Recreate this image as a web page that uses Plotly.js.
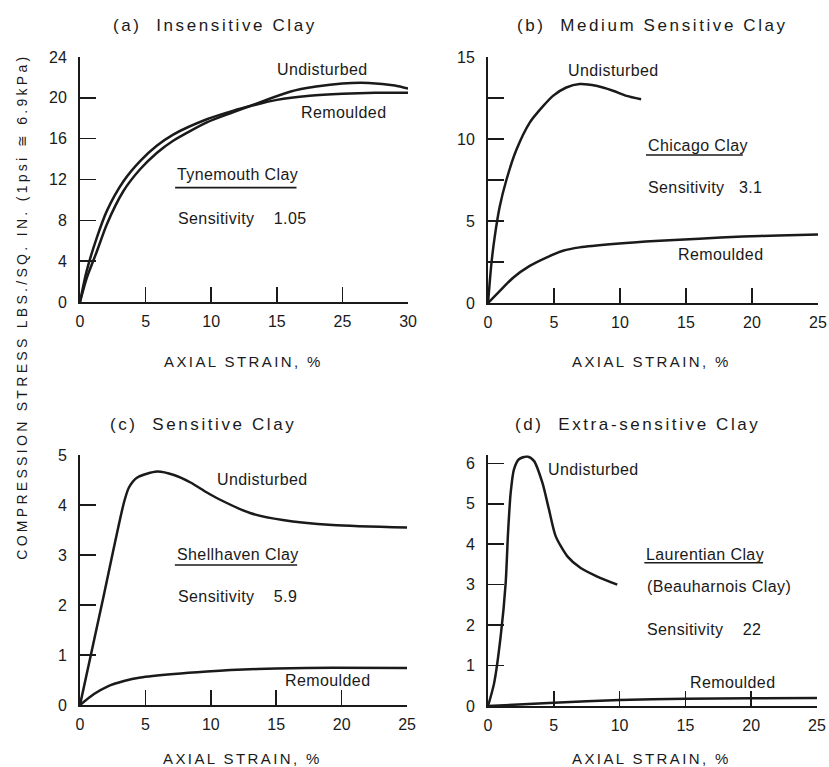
<!DOCTYPE html>
<html>
<head>
<meta charset="utf-8">
<script src="https://cdn.plot.ly/plotly-3.0.1.min.js"></script>
<style>
html,body{margin:0;padding:0;background:#fff;}
#chart{width:829px;height:767px;}
.annotation-text[style*="font-size: 17px"]{letter-spacing:2.6px;}
.annotation-text[style*="font-size: 15px"]{letter-spacing:2.4px;}
.annotation-text[style*="font-size: 14px"]{letter-spacing:3.3px;}
.annotation-text[style*="font-size: 16px"]{letter-spacing:0.4px;}
</style>
</head>
<body>
<div id="chart"></div>
<script>
// ---------- data ----------
// (a) Insensitive clay (Tynemouth) - x in evenly spaced tick units, labelled 0,5,10,15,25,30
var xTickValsA = [0, 5, 10, 15, 20, 25];
var xTickTextA = ['0', '5', '10', '15', '25', '30'];
var xA_und = [0, 0.5, 1.27, 2.04, 3.3, 4.58, 5.85, 7.1, 9.67, 11.7, 14, 16, 18, 20, 22, 24, 25];
var yA_und = [0, 2.3, 4.9, 7.6, 10.85, 13.0, 14.6, 15.8, 17.6, 18.6, 19.7, 20.6, 21.1, 21.4, 21.45, 21.2, 20.9];
var xA_rem = [0, 0.5, 1.27, 2.04, 3.3, 4.58, 5.85, 7.1, 9.67, 11.7, 13, 15, 17.5, 20, 22.5, 25];
var yA_rem = [0, 3.0, 6.25, 8.9, 11.8, 13.8, 15.3, 16.4, 17.9, 18.75, 19.2, 19.8, 20.2, 20.4, 20.5, 20.5];

// (b) Medium sensitive clay (Chicago)
var xB_und = [0, 0.25, 0.5, 0.88, 1.39, 2.15, 3.16, 4.17, 4.92, 5.93, 6.94, 8.2, 9.47, 10.5, 11.6];
var yB_und = [0, 2.36, 4.0, 5.85, 7.5, 9.34, 11.0, 12.0, 12.63, 13.14, 13.35, 13.24, 12.94, 12.63, 12.42];
var xB_rem = [0, 0.88, 1.9, 3.16, 4.42, 5.68, 6.94, 9.47, 13, 16, 19.3, 22, 25];
var yB_rem = [0, 0.72, 1.54, 2.26, 2.77, 3.18, 3.39, 3.6, 3.8, 3.92, 4.05, 4.12, 4.18];

// (c) Sensitive clay (Shellhaven)
var xC_und = [0, 1.7, 3.36, 3.74, 4.38, 5.9, 7.18, 8.45, 9.7, 10.6, 13, 15.5, 19.3, 25];
var yC_und = [0, 2.05, 4.05, 4.35, 4.55, 4.67, 4.6, 4.45, 4.25, 4.12, 3.84, 3.7, 3.6, 3.55];
var xC_rem = [0, 1.07, 2.09, 3.36, 4.63, 7.18, 9.7, 12, 15, 19.3, 25];
var yC_rem = [0, 0.22, 0.37, 0.48, 0.55, 0.62, 0.67, 0.705, 0.73, 0.745, 0.74];

// (d) Extra-sensitive clay (Laurentian)
var xD_und = [0, 0.46, 0.96, 1.34, 1.52, 1.72, 1.97, 2.35, 2.99, 3.49, 4.13, 4.63, 5.14, 6.03, 7.04, 8.3, 9.82];
var yD_und = [0, 0.56, 1.72, 3.04, 4.28, 5.27, 5.85, 6.1, 6.17, 6.06, 5.52, 4.86, 4.2, 3.7, 3.41, 3.2, 3.0];
var xD_rem = [0, 5, 10, 15, 20, 25];
var yD_rem = [0, 0.08, 0.15, 0.18, 0.19, 0.2];

var xTicks = [0, 5, 10, 15, 20, 25];

var panelTitles = ['(a)\u00a0 Insensitive Clay', '(b)\u00a0 Medium Sensitive Clay', '(c)\u00a0 Sensitive Clay', '(d)\u00a0 Extra-sensitive Clay'];
var xTitle = 'AXIAL STRAIN, %';
var yTitle = 'COMPRESSION STRESS LBS./SQ. IN. (1psi \u2245 6.9kPa)';

// ---------- styling ----------
var FONT = '"Liberation Sans", Arial, sans-serif';
var INK = '#1a1a1a';

function curve(x, y, xa, ya) {
  return {x: x, y: y, xaxis: xa, yaxis: ya, mode: 'lines', type: 'scatter',
    line: {color: INK, width: 2.5, shape: 'spline', smoothing: 0.7},
    hoverinfo: 'skip', showlegend: false};
}

var data = [
  curve(xA_und, yA_und, 'x', 'y'), curve(xA_rem, yA_rem, 'x', 'y'),
  curve(xB_und, yB_und, 'x2', 'y2'), curve(xB_rem, yB_rem, 'x2', 'y2'),
  curve(xC_und, yC_und, 'x3', 'y3'), curve(xC_rem, yC_rem, 'x3', 'y3'),
  curve(xD_und, yD_und, 'x4', 'y4'), curve(xD_rem, yD_rem, 'x4', 'y4')
];

function xax(domain, anchor, tv, tt) {
  return {domain: domain, anchor: anchor, range: [0, 25], tickvals: tv, ticktext: tt,
    ticks: 'inside', ticklen: 15, tickwidth: 1.5, tickcolor: INK,
    showline: true, linewidth: 2, linecolor: INK, showgrid: false, zeroline: false,
    ticklabelstandoff: 4, tickfont: {family: FONT, size: 16, color: INK}, fixedrange: true};
}
function yax(domain, anchor, range, tv, extra) {
  var o = {domain: domain, anchor: anchor, range: range, tickvals: tv,
    ticks: 'inside', ticklen: 16, tickwidth: 1.5, tickcolor: INK,
    showline: true, linewidth: 2, linecolor: INK, showgrid: false, zeroline: false,
    ticklabelstandoff: 8, tickfont: {family: FONT, size: 16, color: INK}, fixedrange: true};
  if (extra) for (var k in extra) o[k] = extra[k];
  return o;
}

function label(text, x, y, xr, yr, anchor) {
  return {text: text, x: x, y: y, xref: xr, yref: yr, showarrow: false,
    xanchor: anchor || 'center', yanchor: 'middle', font: {family: FONT, size: 16, color: INK}};
}
function ptext(text, x, y, size, angle) {
  return {text: text, x: x, y: y, xref: 'paper', yref: 'paper', showarrow: false,
    xanchor: 'center', yanchor: 'middle', textangle: angle || 0,
    font: {family: FONT, size: size, color: INK}};
}

var annotations = [
  ptext(panelTitles[0], 0.2594, 0.9674, 17),
  ptext(panelTitles[1], 0.7865, 0.9674, 17),
  ptext(panelTitles[2], 0.2449, 0.4459, 17),
  ptext(panelTitles[3], 0.7696, 0.4459, 17),
  ptext(xTitle, 0.2943, 0.5293, 15),
  ptext(xTitle, 0.7853, 0.5293, 15),
  ptext(xTitle, 0.2931, 0.0117, 15),
  ptext(xTitle, 0.7853, 0.0117, 15),
  ptext(yTitle, 0.0265, 0.600, 14, -90),
  // (a)
  label('Undisturbed', 18.5, 22.8, 'x', 'y'),
  label('Remoulded', 20.1, 18.6, 'x', 'y'),
  label('Tynemouth Clay', 7.25, 12.45, 'x', 'y', 'left'),
  label('Sensitivity\u00a0\u00a0\u00a0 1.05', 7.3, 8.2, 'x', 'y', 'left'),
  // (b)
  label('Undisturbed', 9.47, 14.2, 'x2', 'y2'),
  label('Remoulded', 17.6, 2.93, 'x2', 'y2'),
  label('Chicago Clay', 11.97, 9.63, 'x2', 'y2', 'left'),
  label('Sensitivity\u00a0\u00a0 3.1', 11.97, 7.07, 'x2', 'y2', 'left'),
  // (c)
  label('Undisturbed', 13.97, 4.5, 'x3', 'y3'),
  label('Remoulded', 18.9, 0.5, 'x3', 'y3'),
  label('Shellhaven Clay', 7.25, 3.02, 'x3', 'y3', 'left'),
  label('Sensitivity\u00a0\u00a0\u00a0 5.9', 7.33, 2.18, 'x3', 'y3', 'left'),
  // (d)
  label('Undisturbed', 8.0, 5.84, 'x4', 'y4'),
  label('Remoulded', 18.6, 0.59, 'x4', 'y4'),
  label('Laurentian Clay', 11.88, 3.74, 'x4', 'y4', 'left'),
  label('(Beauharnois Clay)', 11.96, 2.95, 'x4', 'y4', 'left'),
  label('Sensitivity\u00a0\u00a0\u00a0 22', 11.96, 1.9, 'x4', 'y4', 'left')
];

function uline(x0, x1, y, xr, yr) {
  return {type: 'line', xref: xr, yref: yr, x0: x0, x1: x1, y0: y, y1: y,
    line: {color: INK, width: 1.6}};
}
var shapes = [
  uline(7.25, 16.5, 11.2, 'x', 'y'),
  uline(11.97, 19.3, 9.02, 'x2', 'y2'),
  uline(7.25, 16.6, 2.8, 'x3', 'y3'),
  uline(11.88, 20.9, 3.54, 'x4', 'y4')
];

var layout = {
  width: 829, height: 767,
  margin: {l: 0, r: 0, t: 0, b: 0},
  paper_bgcolor: '#ffffff', plot_bgcolor: '#ffffff',
  showlegend: false,
  font: {family: FONT, color: INK},
  xaxis: xax([0.0965, 0.4922], 'y', xTickValsA, xTickTextA),
  yaxis: yax([0.6063, 0.9257], 'x', [0, 24], [0, 4, 8, 12, 16, 20, 24]),
  xaxis2: xax([0.5887, 0.9867], 'y2', xTicks, null),
  yaxis2: yax([0.6050, 0.9257], 'x2', [0, 15], [0, 5, 10, 15],
    {minor: {tickvals: [2.5, 7.5, 12.5], ticks: 'inside', ticklen: 16, tickwidth: 1.5, tickcolor: INK}}),
  xaxis3: xax([0.0965, 0.4910], 'y3', xTicks, null),
  yaxis3: yax([0.0808, 0.4068], 'x3', [0, 5], [0, 1, 2, 3, 4, 5]),
  xaxis4: xax([0.5887, 0.9855], 'y4', xTicks, null),
  yaxis4: yax([0.0795, 0.4065], 'x4', [0, 6.2], [0, 1, 2, 3, 4, 5, 6]),
  annotations: annotations,
  shapes: shapes
};

Plotly.newPlot('chart', data, layout, {staticPlot: true, displayModeBar: false});
</script>
</body>
</html>
